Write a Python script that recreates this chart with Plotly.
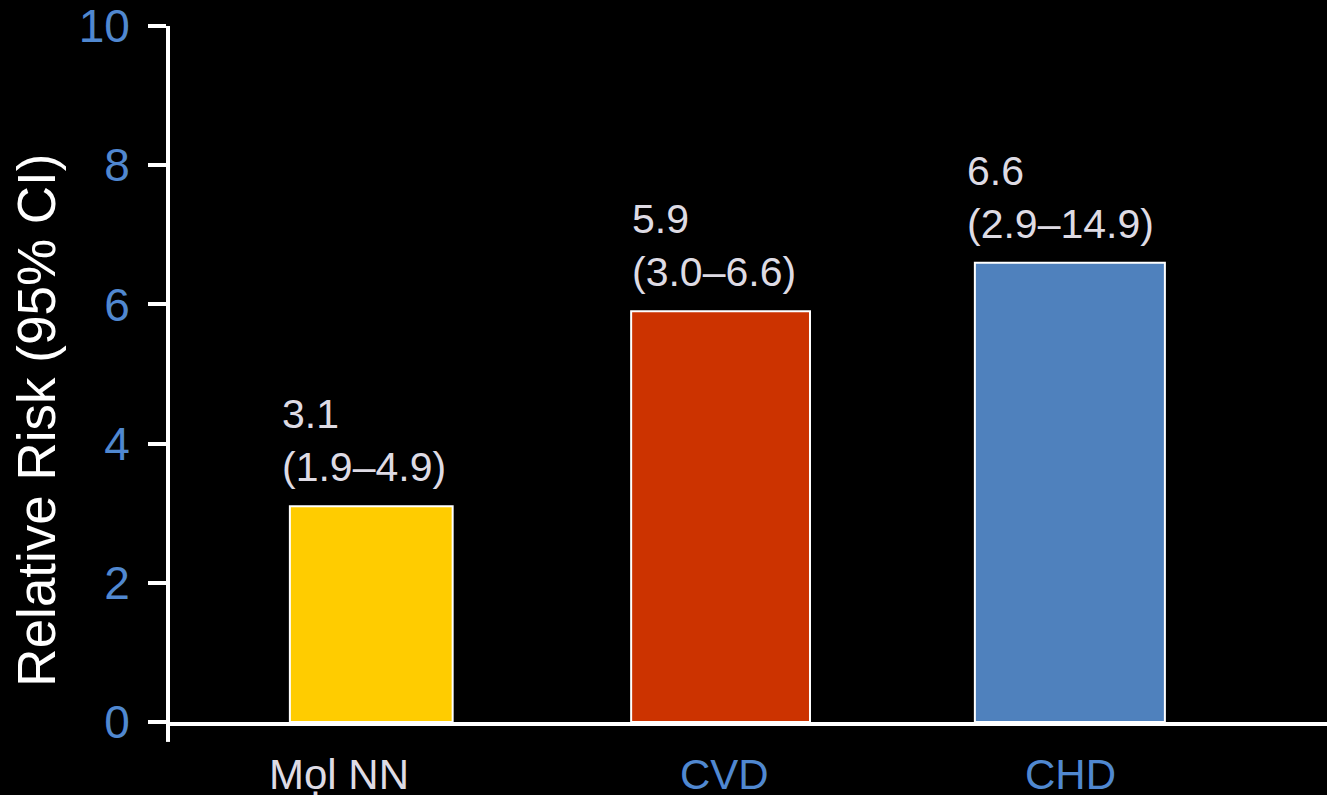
import plotly.graph_objects as go

# Relative risk by outcome, with 95% confidence intervals
categories = ["Mọl NN", "CVD", "CHD"]
relative_risk = [3.1, 5.9, 6.6]
ci_low = [1.9, 3.0, 2.9]
ci_high = [4.9, 6.6, 14.9]
y_ticks = [0, 2, 4, 6, 8, 10]

# Styling
bar_colors = ["#FFCC00", "#CC3300", "#4F81BD"]
bar_widths = [0.466, 0.512, 0.544]
label_colors = ["#DEDBE4", "#5088D0", "#5088D0"]
label_xshift = [-32, 4, 1]
value_xshift = [-10, -1, -10]
FONT = "Liberation Sans, Arial, Helvetica, sans-serif"
BLUE = "#5088D0"
LIGHT = "#DEDBE4"

W, H = 1327, 795
ML, MR, MT, MB = 170, 0, 23, 73
plot_w = W - ML - MR
plot_h = H - MT - MB

xpos = list(range(len(categories)))

fig = go.Figure()
fig.add_trace(go.Bar(
    x=xpos,
    y=relative_risk,
    width=bar_widths,
    marker=dict(color=bar_colors, line=dict(color="white", width=2)),
    hoverinfo="skip",
))

annotations = []
# value and CI above each bar, left aligned with the bar edge
for i, (v, lo, hi) in enumerate(zip(relative_risk, ci_low, ci_high)):
    annotations.append(dict(
        x=xpos[i] - bar_widths[i] / 2, y=v, xref="x", yref="y",
        text=f"{v}<br>({lo:.1f}–{hi:.1f})",
        showarrow=False, xanchor="left", yanchor="bottom", align="left",
        xshift=value_xshift[i], yshift=14,
        font=dict(family=FONT, size=41, color=LIGHT),
    ))
# category labels under the axis
for i, name in enumerate(categories):
    annotations.append(dict(
        x=xpos[i], y=0, xref="x", yref="paper",
        text=name, showarrow=False, xanchor="center", yanchor="top",
        xshift=label_xshift[i], yshift=-27,
        font=dict(family=FONT, size=42, color=label_colors[i]),
    ))
# y-axis title
annotations.append(dict(
    x=(37 - ML) / plot_w, y=0.433, xref="paper", yref="paper",
    text="Relative Risk (95% CI)", textangle=-90, showarrow=False,
    xanchor="center", yanchor="middle",
    font=dict(family=FONT, size=53, color="white"),
))

fig.update_layout(
    width=W, height=H,
    margin=dict(l=ML, r=MR, t=MT, b=MB, pad=0),
    paper_bgcolor="black", plot_bgcolor="black",
    showlegend=False,
    annotations=annotations,
    xaxis=dict(
        range=[-0.5762, 2.7361], showticklabels=False, ticks="",
        showgrid=False, zeroline=False,
        showline=True, linecolor="white", linewidth=4,
    ),
    yaxis=dict(
        range=[0, 10], tickvals=y_ticks, ticks="outside", ticklen=18,
        tickwidth=4, tickcolor="white", ticklabelstandoff=9,
        ticklabeloverflow="allow",
        tickfont=dict(family=FONT, size=46, color=BLUE),
        showgrid=False, zeroline=False,
        showline=True, linecolor="white", linewidth=4,
    ),
    shapes=[dict(
        type="line", xref="paper", yref="paper",
        x0=-2 / plot_w, x1=-2 / plot_w, y0=0, y1=-20 / plot_h,
        line=dict(color="white", width=4),
    )],
)

fig.write_html("out.html")
